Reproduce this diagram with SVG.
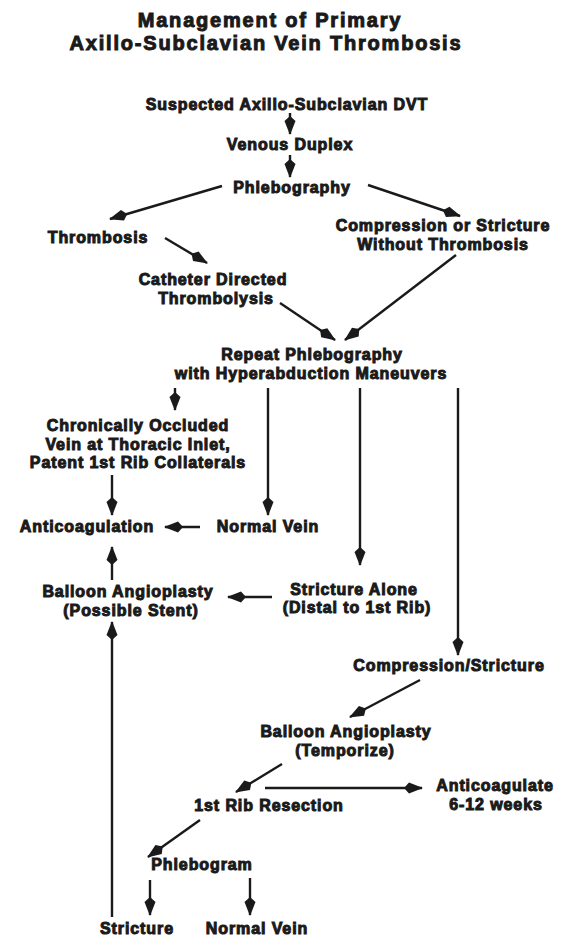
<svg xmlns="http://www.w3.org/2000/svg" width="570" height="939" viewBox="0 0 570 939">
<style>
text{font-family:"Liberation Sans",Arial,sans-serif;font-weight:bold;fill:#1a1a1a;stroke:#1a1a1a;stroke-width:1;text-anchor:middle}
.t{font-size:20px;letter-spacing:1.8px}
.n{font-size:16px;letter-spacing:0.9px}
.c{fill:none;stroke:#1a1a1a;stroke-width:2.4;marker-end:url(#ah)}
</style>
<defs>
<marker id="ah" markerWidth="20" markerHeight="12" refX="18" refY="6" orient="auto" markerUnits="userSpaceOnUse">
<path d="M0,6 L5,0.5 L19,6 L5,11.5 Z" fill="#1a1a1a"/>
</marker>
</defs>
<rect width="570" height="939" fill="#fff"/>
<g id="title">
<text class="t" x="270" y="27">Management of Primary</text>
<text class="t" x="266" y="50">Axillo-Subclavian Vein Thrombosis</text>
</g>
<g id="connectors">
<line class="c" x1="290" y1="113" x2="290" y2="134"/>
<line class="c" x1="290" y1="155" x2="290" y2="177"/>
<line class="c" x1="222" y1="186" x2="110" y2="219"/>
<line class="c" x1="368" y1="185" x2="460" y2="216"/>
<line class="c" x1="165" y1="238" x2="207" y2="263"/>
<line class="c" x1="280" y1="303" x2="335" y2="340"/>
<line class="c" x1="456" y1="255" x2="345" y2="340"/>
<line class="c" x1="175" y1="388" x2="175" y2="410"/>
<line class="c" x1="268" y1="388" x2="268" y2="515"/>
<line class="c" x1="360" y1="388" x2="360" y2="565"/>
<line class="c" x1="458" y1="388" x2="458" y2="655"/>
<line class="c" x1="112" y1="475" x2="112" y2="515"/>
<line class="c" x1="200" y1="527" x2="165" y2="527"/>
<line class="c" x1="112" y1="580" x2="112" y2="547"/>
<line class="c" x1="272" y1="597" x2="228" y2="597"/>
<line class="c" x1="112" y1="917" x2="112" y2="622"/>
<line class="c" x1="420" y1="680" x2="350" y2="717"/>
<line class="c" x1="282" y1="764" x2="236" y2="792"/>
<line class="c" x1="265" y1="788" x2="422" y2="788"/>
<line class="c" x1="200" y1="820" x2="148" y2="857"/>
<line class="c" x1="150" y1="880" x2="150" y2="915"/>
<line class="c" x1="250" y1="878" x2="250" y2="915"/>
</g>
<g id="suspected"><text class="n" x="287" y="110">Suspected Axillo-Subclavian DVT</text></g>
<g id="duplex"><text class="n" x="290" y="150">Venous Duplex</text></g>
<g id="phlebography"><text class="n" x="292" y="193">Phlebography</text></g>
<g id="thrombosis"><text class="n" x="98" y="243">Thrombosis</text></g>
<g id="compression"><text class="n" x="443" y="231">Compression or Stricture</text><text class="n" x="443" y="250">Without Thrombosis</text></g>
<g id="catheter"><text class="n" x="213" y="285">Catheter Directed</text><text class="n" x="216" y="304">Thrombolysis</text></g>
<g id="repeat"><text class="n" x="312" y="360">Repeat Phlebography</text><text class="n" x="311" y="379">with Hyperabduction Maneuvers</text></g>
<g id="occluded"><text class="n" x="138" y="431">Chronically Occluded</text><text class="n" x="138" y="449.5">Vein at Thoracic Inlet,</text><text class="n" x="138" y="468">Patent 1st Rib Collaterals</text></g>
<g id="anticoag1"><text class="n" x="87" y="532">Anticoagulation</text></g>
<g id="normal1"><text class="n" x="268" y="532">Normal Vein</text></g>
<g id="balloon1"><text class="n" x="128" y="597">Balloon Angioplasty</text><text class="n" x="131" y="615.5">(Possible Stent)</text></g>
<g id="stricturealone"><text class="n" x="354" y="594.5">Stricture Alone</text><text class="n" x="357" y="613">(Distal to 1st Rib)</text></g>
<g id="compstricture"><text class="n" x="449" y="671">Compression/Stricture</text></g>
<g id="balloon2"><text class="n" x="346" y="737">Balloon Angioplasty</text><text class="n" x="345" y="756">(Temporize)</text></g>
<g id="ribresection"><text class="n" x="269" y="811">1st Rib Resection</text></g>
<g id="anticoag2"><text class="n" x="495" y="791">Anticoagulate</text><text class="n" x="496" y="810">6-12 weeks</text></g>
<g id="phlebogram"><text class="n" x="202" y="870">Phlebogram</text></g>
<g id="stricture"><text class="n" x="137" y="934">Stricture</text></g>
<g id="normal2"><text class="n" x="257" y="934">Normal Vein</text></g>
</svg>
